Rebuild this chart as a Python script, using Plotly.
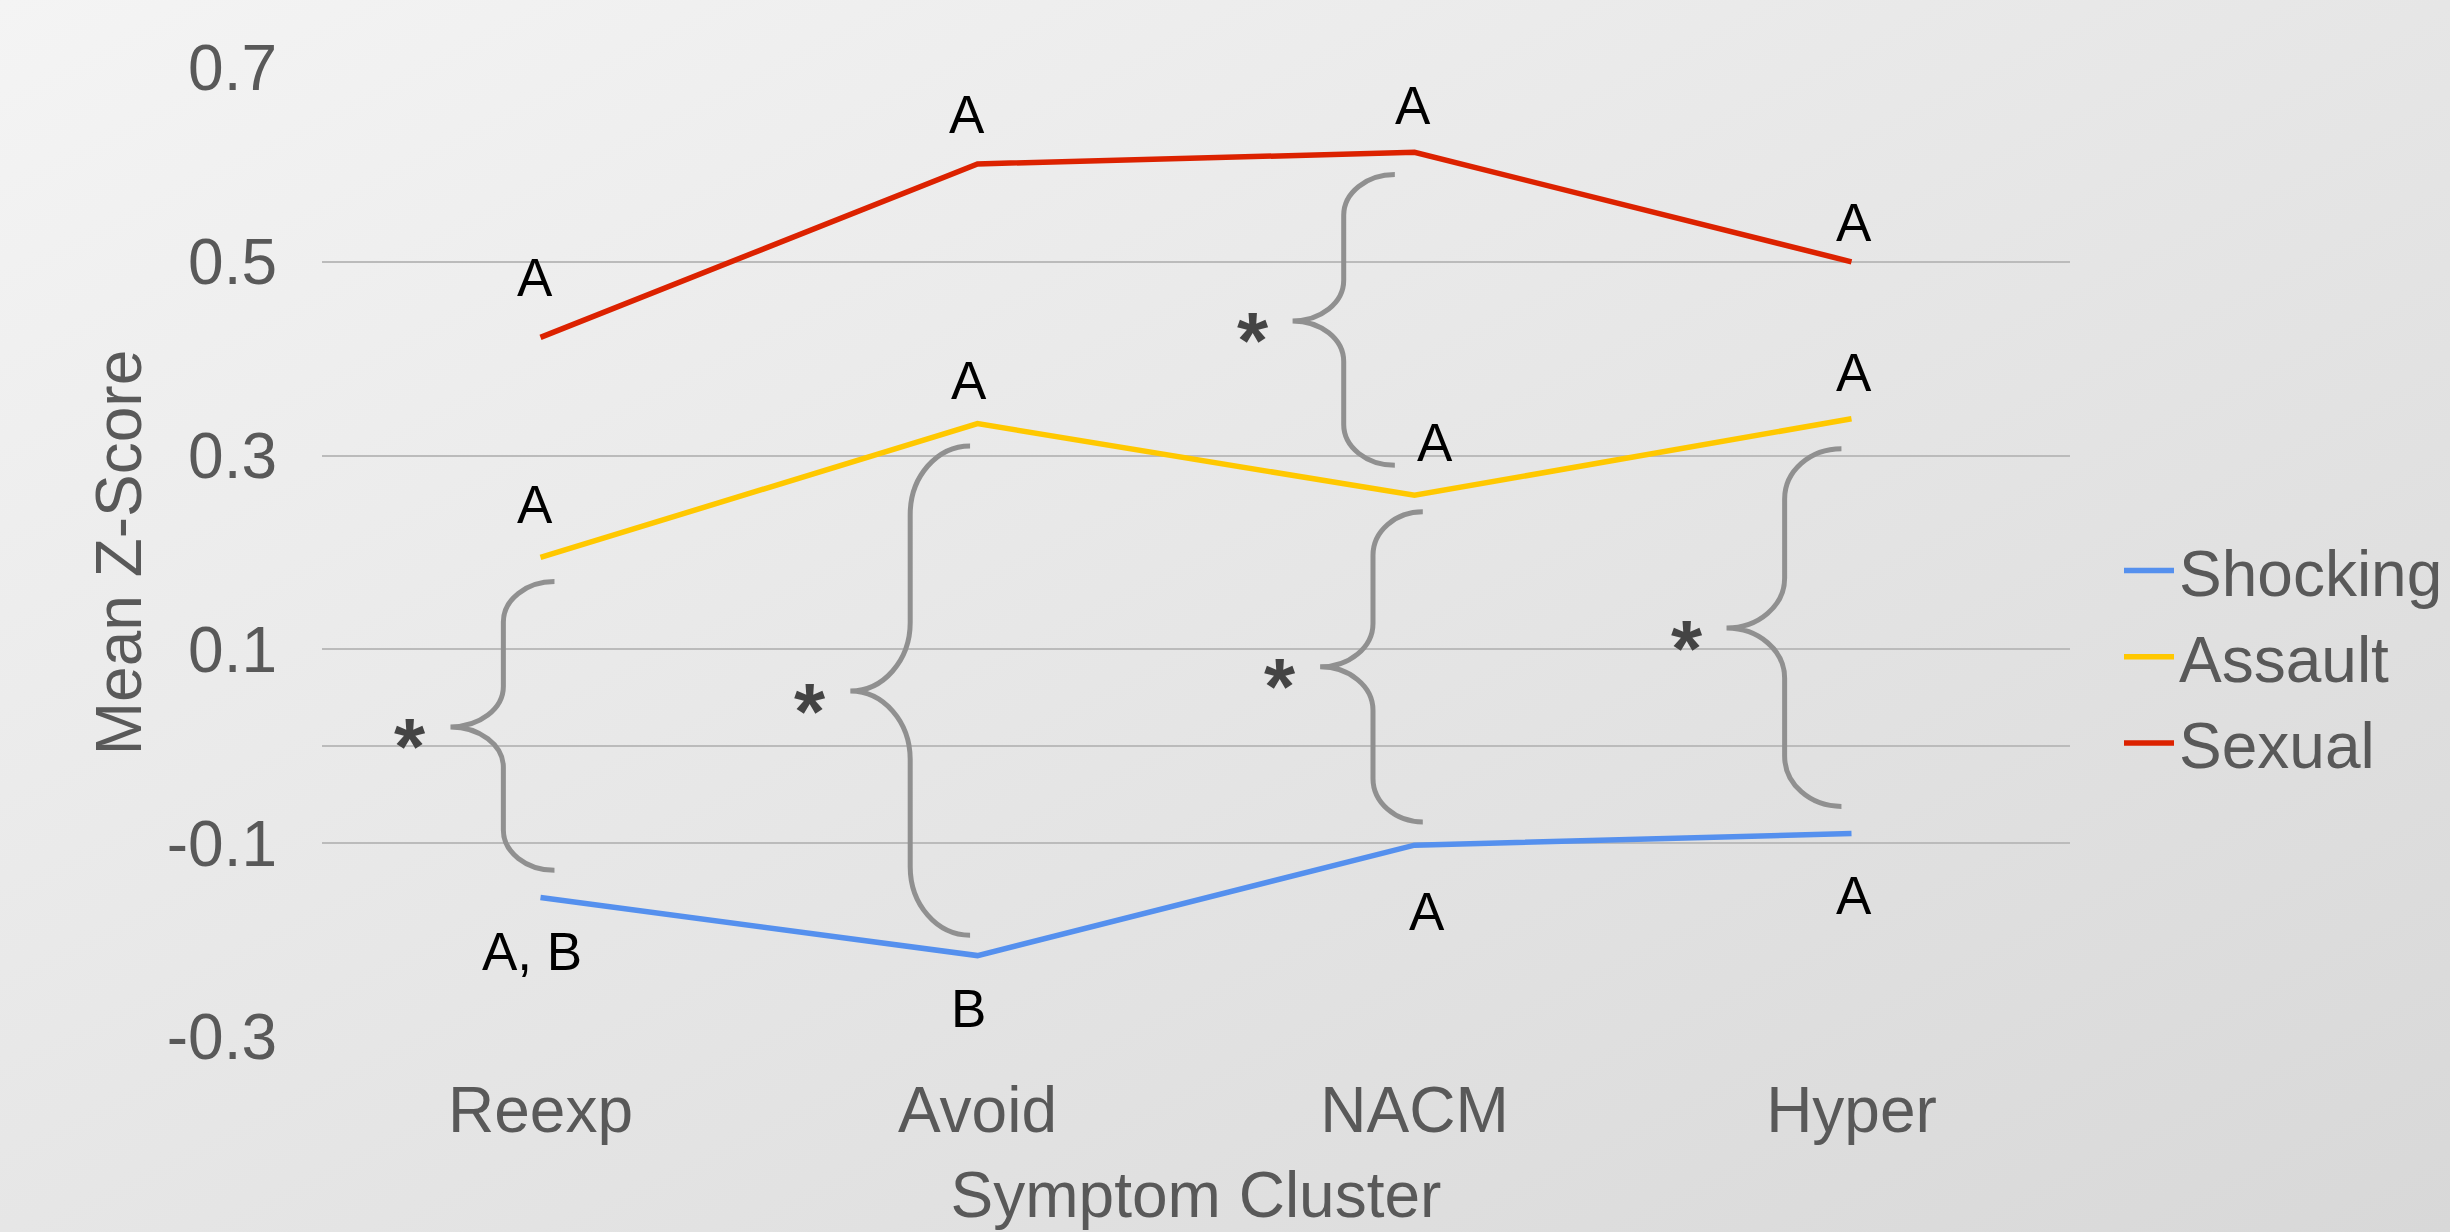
import base64
import plotly.graph_objects as go

# ---------------- data ----------------
categories = ["Reexp", "Avoid", "NACM", "Hyper"]
series_names = ["Shocking", "Assault", "Sexual"]
shocking = [-0.156, -0.216, -0.102, -0.090]
assault = [0.195, 0.333, 0.259, 0.338]
sexual = [0.422, 0.601, 0.613, 0.500]

shocking_letters = ["A, B", "B", "A", "A"]
assault_letters = ["A", "A", "A", "A"]
sexual_letters = ["A", "A", "A", "A"]

y_tickvals = [-0.3, -0.1, 0.1, 0.3, 0.5, 0.7]
y_ticktext = ["-0.3", "-0.1", "0.1", "0.3", "0.5", "0.7"]

# significance braces (category index, top, bottom, tip value)
brace_cat = [0, 1, 2, 2, 3]
brace_top = [0.170, 0.310, 0.590, 0.242, 0.307]
brace_bottom = [-0.128, -0.195, 0.290, -0.078, -0.062]
brace_tip = [0.020, 0.057, 0.439, 0.082, 0.122]
brace_text = ["*", "*", "*", "*", "*"]

# ---------------- style / layout ----------------
W, H = 2450, 1232
ML, MR, MT, MB = 322, 380, 68, 195
PW, PH = W - ML - MR, H - MT - MB

colors = {"Shocking": "#5590EE", "Assault": "#FFC800", "Sexual": "#DC2200"}
values = {"Shocking": shocking, "Assault": assault, "Sexual": sexual}
letters = {"Shocking": shocking_letters, "Assault": assault_letters, "Sexual": sexual_letters}
# pixel offsets of the letter labels from their points (dx, dy up)
letter_offsets = {
    "Sexual": [(-6, 60), (-11, 49), (-2, 47), (2, 39)],
    "Assault": [(-6, 53), (-9, 43), (20, 53), (2, 46)],
    "Shocking": [(-9, -54), (-9, -53), (12, -66), (2, -62)],
}
# brace horizontal geometry relative to category (in category units)
brace_end_off = [0.032, -0.017, -0.045, 0.019, -0.023]
brace_arm = [0.117, 0.137, 0.117, 0.114, 0.130]
brace_tipw = [0.121, 0.137, 0.117, 0.121, 0.133]

FONT = "Liberation Sans, Arial, Helvetica, sans-serif"
GRAY_TXT = "#595959"

x = list(range(len(categories)))

fig = go.Figure()
for name in series_names:
    fig.add_trace(go.Scatter(
        x=x, y=values[name], name=name, mode="lines",
        line=dict(color=colors[name], width=5.5),
        hoverinfo="x+y+name",
    ))

annotations = []
for name in series_names:
    for i, (txt, v) in enumerate(zip(letters[name], values[name])):
        dx, dy = letter_offsets[name][i]
        annotations.append(dict(
            x=x[i], y=v, xref="x", yref="y", text=txt, showarrow=False,
            xanchor="center", yanchor="middle", xshift=dx, yshift=dy,
            font=dict(family=FONT, size=53, color="#000000"),
        ))


def brace_path(xe, xv, xt, yt, yb, ym, r):
    k = 0.5523
    d1 = xe - xv
    d2 = xv - xt
    p = f"M{xe:.4f},{yt:.4f} C{xe - k * d1:.4f},{yt:.4f} {xv:.4f},{yt - (1 - k) * r:.4f} {xv:.4f},{yt - r:.4f}"
    p += f" L{xv:.4f},{ym + r:.4f}"
    p += f" C{xv:.4f},{ym + (1 - k) * r:.4f} {xt + k * d2:.4f},{ym:.4f} {xt:.4f},{ym:.4f}"
    p += f" C{xt + k * d2:.4f},{ym:.4f} {xv:.4f},{ym - (1 - k) * r:.4f} {xv:.4f},{ym - r:.4f}"
    p += f" L{xv:.4f},{yb + r:.4f}"
    p += f" C{xv:.4f},{yb + (1 - k) * r:.4f} {xe - k * d1:.4f},{yb:.4f} {xe:.4f},{yb:.4f}"
    return p


shapes = []
for j in range(len(brace_cat)):
    xe = brace_cat[j] + brace_end_off[j]
    xv = xe - brace_arm[j]
    xt = xv - brace_tipw[j]
    r = 0.14 * (brace_top[j] - brace_bottom[j])
    shapes.append(dict(
        type="path", xref="x", yref="y",
        path=brace_path(xe, xv, xt, brace_top[j], brace_bottom[j], brace_tip[j], r),
        line=dict(color="#909090", width=5), layer="above",
    ))
    annotations.append(dict(
        x=xt, y=brace_tip[j], xref="x", yref="y", text=brace_text[j], showarrow=False,
        xanchor="center", yanchor="middle", xshift=-40, yshift=-20,
        font=dict(family=FONT, size=80, color="#444444", weight="bold"),
    ))

# background gradient
svg = (f'<svg xmlns="http://www.w3.org/2000/svg" width="{W}" height="{H}" viewBox="0 0 {W} {H}" '
       f'preserveAspectRatio="none"><defs><linearGradient id="g" x1="0" y1="0" x2="1" y2="1">'
       f'<stop offset="0" stop-color="#f4f4f4"/><stop offset="1" stop-color="#d8d8d8"/>'
       f'</linearGradient></defs><rect x="0" y="0" width="{W}" height="{H}" fill="url(#g)"/></svg>')
bg_src = "data:image/svg+xml;base64," + base64.b64encode(svg.encode()).decode()

fig.update_layout(
    width=W, height=H, autosize=False,
    margin=dict(l=ML, r=MR, t=MT, b=MB, pad=0, autoexpand=False),
    paper_bgcolor="#e0e0e0",
    plot_bgcolor="rgba(0,0,0,0)",
    font=dict(family=FONT, color=GRAY_TXT, size=64),
    showlegend=True,
    legend=dict(
        xref="container", yref="container",
        x=2119 / W, y=1 - 657 / H, xanchor="left", yanchor="middle",
        font=dict(family=FONT, size=64, color=GRAY_TXT),
        bgcolor="rgba(0,0,0,0)", traceorder="normal", itemwidth=50,
        tracegroupgap=0,
    ),
    images=[dict(
        source=bg_src, xref="paper", yref="paper",
        x=-ML / PW, y=1 + MT / PH, sizex=W / PW, sizey=H / PH,
        xanchor="left", yanchor="top", sizing="stretch", layer="below",
    )],
    shapes=shapes,
    annotations=annotations,
    xaxis=dict(
        range=[-0.5, len(categories) - 0.5],
        tickvals=x, ticktext=categories,
        showgrid=False, zeroline=False, showline=False, ticks="",
        ticklabelstandoff=30, automargin=False,
        tickfont=dict(family=FONT, size=64, color=GRAY_TXT),
        title=dict(text="Symptom Cluster", font=dict(family=FONT, size=64, color=GRAY_TXT), standoff=27),
    ),
    yaxis=dict(
        range=[-0.3, 0.7],
        tickvals=y_tickvals, ticktext=y_ticktext,
        showgrid=True, gridcolor="#BBBBBB", gridwidth=2,
        zeroline=True, zerolinecolor="#BBBBBB", zerolinewidth=2,
        showline=False, ticks="", automargin=False,
        ticklabelstandoff=44,
        tickfont=dict(family=FONT, size=64, color=GRAY_TXT),
        title=dict(text="Mean Z-Score", font=dict(family=FONT, size=64, color=GRAY_TXT), standoff=4),
    ),
)

fig.write_html(
    "out.html",
    config={"responsive": False, "displayModeBar": False},
    post_script="document.body.style.margin='0';document.documentElement.style.overflow='hidden';document.body.style.overflow='hidden';",
)
